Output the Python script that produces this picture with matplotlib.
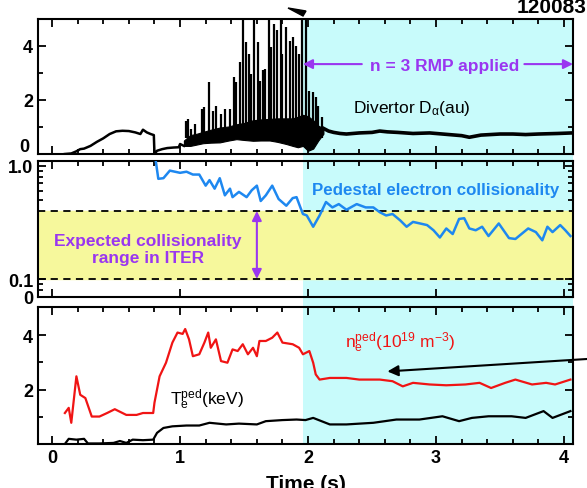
import numpy as np
import matplotlib
matplotlib.use("Agg")
import matplotlib.pyplot as plt
from matplotlib.patches import Rectangle, Polygon
from matplotlib.ticker import FixedLocator, MultipleLocator, NullFormatter
import matplotlib.transforms as mtransforms

plt.rcParams["font.family"] = ["Liberation Sans", "DejaVu Sans"]
plt.rcParams["mathtext.default"] = "regular"
plt.rcParams["xtick.direction"] = "in"
plt.rcParams["ytick.direction"] = "in"

# ---- data ----
# divertor D-alpha, before ELMs
t_da_pre = [0.10, 0.15, 0.19, 0.22, 0.25, 0.30, 0.35, 0.40, 0.45, 0.50, 0.55,
            0.60, 0.65, 0.69, 0.71, 0.74, 0.77, 0.795, 0.80, 0.82, 0.86, 0.90,
            0.95, 0.99, 1.00, 1.03]
da_pre = [0.0, 0.02, 0.1, 0.18, 0.2, 0.3, 0.45, 0.58, 0.74, 0.84, 0.86,
          0.85, 0.8, 0.74, 0.9, 0.8, 0.74, 0.7, 0.0, 0.12, 0.18, 0.22,
          0.24, 0.25, 0.37, 0.3]
# dense ELM band (lower / upper envelope)
t_band = [1.03, 1.08, 1.13, 1.18, 1.24, 1.31, 1.38, 1.44, 1.50, 1.57, 1.63,
          1.70, 1.76, 1.83, 1.88, 1.92, 1.96, 2.00, 2.04, 2.08, 2.12]
band_lo = [0.3, 0.3, 0.35, 0.4, 0.42, 0.43, 0.5, 0.55, 0.52, 0.49, 0.5,
           0.5, 0.45, 0.37, 0.3, 0.25, 0.3, 0.12, 0.2, 0.5, 0.75]
band_hi = [0.5, 0.7, 0.75, 0.82, 0.9, 0.98, 1.02, 1.1, 1.15, 1.25, 1.28,
           1.3, 1.32, 1.32, 1.32, 1.38, 1.45, 1.4, 1.25, 1.05, 0.95]
# ELM spikes
spike_t = [1.045, 1.062, 1.088, 1.114, 1.174, 1.19, 1.225, 1.257, 1.283, 1.32,
           1.35, 1.39, 1.418, 1.44, 1.465, 1.49, 1.512, 1.537, 1.555, 1.58,
           1.608, 1.626, 1.647, 1.667, 1.693, 1.711, 1.73, 1.756, 1.785, 1.80,
           1.83, 1.855, 1.886, 1.907, 1.93, 1.953, 1.984, 2.01, 2.036, 2.06,
           2.08, 2.11]
spike_v = [1.23, 1.3, 0.93, 1.11, 1.67, 1.73, 2.66, 1.6, 1.79, 1.48,
           1.67, 1.67, 2.84, 2.66, 3.4, 5.0, 4.15, 3.7, 2.97, 5.0,
           4.15, 2.72, 3.1, 3.15, 5.0, 3.95, 4.8, 4.6, 5.0, 3.7,
           4.7, 4.2, 4.35, 4.0, 3.7, 4.95, 5.0, 2.35, 2.3, 2.1,
           1.79, 1.36]
# after RMP
t_da_post = [2.12, 2.16, 2.2, 2.25, 2.3, 2.4, 2.5, 2.56, 2.62, 2.7, 2.82,
             2.95, 3.1, 3.2, 3.26, 3.35, 3.5, 3.6, 3.7, 3.8, 3.95, 4.06]
da_post = [0.95, 0.85, 0.8, 0.76, 0.74, 0.78, 0.8, 0.85, 0.82, 0.8, 0.76,
           0.78, 0.72, 0.68, 0.62, 0.7, 0.74, 0.74, 0.72, 0.74, 0.76, 0.78]

# pedestal electron collisionality
t_nu = [0.81, 0.83, 0.87, 0.92, 1.00, 1.05, 1.10, 1.15, 1.20, 1.23, 1.27,
        1.31, 1.35, 1.39, 1.41, 1.46, 1.52, 1.56, 1.60, 1.63, 1.67, 1.72,
        1.77, 1.83, 1.88, 1.91, 1.94, 1.96, 1.99, 2.04, 2.09, 2.14, 2.19,
        2.24, 2.30, 2.38, 2.45, 2.51, 2.56, 2.61, 2.66, 2.72, 2.77, 2.82,
        2.875, 2.93, 2.98, 3.03, 3.08, 3.13, 3.18, 3.22, 3.26, 3.31, 3.36,
        3.41, 3.49, 3.57, 3.62, 3.72, 3.78, 3.83, 3.87, 3.91, 3.97, 4.01,
        4.05]
nu = [1.11, 0.77, 0.78, 0.91, 0.87, 0.89, 0.84, 0.84, 0.67, 0.75, 0.63,
      0.78, 0.55, 0.63, 0.53, 0.59, 0.53, 0.61, 0.67, 0.49, 0.55, 0.67,
      0.51, 0.445, 0.52, 0.53, 0.43, 0.376, 0.365, 0.29, 0.365, 0.48, 0.43,
      0.46, 0.41, 0.46, 0.43, 0.43, 0.39, 0.365, 0.376, 0.33, 0.29, 0.32,
      0.31, 0.30, 0.27, 0.233, 0.28, 0.25, 0.34, 0.345, 0.28, 0.27, 0.29,
      0.24, 0.31, 0.23, 0.226, 0.28, 0.26, 0.22, 0.29, 0.26, 0.30, 0.27,
      0.24]

# pedestal density
t_ne = [0.10, 0.13, 0.15, 0.19, 0.22, 0.26, 0.31, 0.37, 0.43, 0.49, 0.58,
        0.66, 0.71, 0.79, 0.80, 0.84, 0.89, 0.94, 0.98, 1.02, 1.04, 1.07,
        1.10, 1.15, 1.19, 1.22, 1.24, 1.28, 1.32, 1.37, 1.41, 1.45, 1.49,
        1.53, 1.57, 1.60, 1.62, 1.67, 1.72, 1.76, 1.80, 1.88, 1.93, 1.96,
        2.01, 2.04, 2.06, 2.09, 2.17, 2.30, 2.40, 2.56, 2.66, 2.74, 2.82,
        2.95, 3.08, 3.23, 3.34, 3.43, 3.54, 3.62, 3.75, 3.86, 3.93, 4.05]
ne = [1.14, 1.33, 0.78, 2.49, 1.81, 1.69, 1.01, 1.01, 1.14, 1.28, 1.07,
      1.07, 1.14, 1.14, 1.52, 2.49, 2.99, 3.73, 4.1, 4.05, 4.23, 3.85,
      3.23, 3.3, 3.73, 4.1, 3.54, 3.85, 3.05, 2.99, 3.48, 3.42, 3.67,
      3.30, 3.54, 3.23, 3.79, 3.79, 3.91, 4.1, 3.73, 3.67, 3.54, 3.30,
      3.42, 2.99, 2.56, 2.37, 2.43, 2.43, 2.37, 2.37, 2.31, 2.12, 2.25,
      2.19, 2.16, 2.19, 2.25, 2.06, 2.25, 2.37, 2.19, 2.25, 2.19, 2.37]

# pedestal temperature
t_te = [0.10, 0.13, 0.19, 0.25, 0.28, 0.37, 0.48, 0.53, 0.58, 0.63, 0.71,
        0.79, 0.82, 0.87, 0.94, 1.05, 1.15, 1.23, 1.36, 1.46, 1.60, 1.67,
        1.80, 1.91, 1.98, 2.04, 2.17, 2.30, 2.51, 2.69, 2.87, 3.05, 3.18,
        3.28, 3.41, 3.59, 3.70, 3.84, 3.91, 4.05]
te = [0.0, 0.19, 0.16, 0.19, 0.02, 0.02, 0.04, 0.11, 0.04, 0.16, 0.14,
      0.16, 0.41, 0.59, 0.65, 0.68, 0.68, 0.78, 0.72, 0.75, 0.72, 0.84,
      0.88, 0.9, 0.88, 0.96, 0.72, 0.72, 0.78, 0.9, 0.9, 1.02, 0.84,
      0.96, 1.02, 1.02, 0.96, 1.21, 0.96, 1.21]

time_ticks = [0, 1, 2, 3, 4]

RMP_START = 1.96
XLIM = (-0.11, 4.07)
CYAN = "#c8fbfb"
YELLOW = "#f6f89c"
PURPLE = "#9a36f0"
BLUE = "#1e88f0"
RED = "#f01414"

fig = plt.figure(figsize=(5.87, 4.89), dpi=100)
W, H = 587.0, 489.0


def px(x, y):
    # picture pixels (from top-left) to figure fraction
    return (x / W, 1 - y / H)


def axes_px(left, top, right, bottom):
    return fig.add_axes([left / W, 1 - bottom / H, (right - left) / W, (bottom - top) / H])


ax1 = axes_px(38, 20, 573, 155)
ax2 = axes_px(38, 162, 573, 298)
ax3 = axes_px(38, 308, 573, 445)

for ax in (ax1, ax2, ax3):
    ax.set_facecolor("none")
    ax.set_xlim(*XLIM)
    ax.set_xticks(time_ticks)
    ax.xaxis.set_minor_locator(MultipleLocator(0.2))
    ax.tick_params(which="both", top=True, right=True, width=1.3)
    ax.tick_params(which="major", length=6, labelsize=13)
    ax.tick_params(which="minor", length=3.5)
    for s in ax.spines.values():
        s.set_linewidth(1.5)
ax1.set_xticklabels([])
ax2.set_xticklabels([])

# cyan region for RMP, across all three panels
trans = mtransforms.blended_transform_factory(ax3.transData, fig.transFigure)
fig.add_artist(Rectangle((RMP_START, 1 - 445 / H), XLIM[1] - RMP_START, (445 - 20) / H,
                         transform=trans, facecolor=CYAN, edgecolor="none", zorder=-1))

# ---- top panel: D-alpha ----
ax1.plot(t_da_pre, da_pre, color="k", lw=1.8)
ax1.fill_between(t_band, band_lo, band_hi, color="k", lw=0.8)
ax1.vlines(spike_t, 0.6, spike_v, color="k", lw=1.6)
ax1.plot(t_da_post, da_post, color="k", lw=2.6)
ax1.set_ylim(0, 5)
ax1.set_yticks([0, 2, 4])
ax1.set_yticklabels(["", "2", "4"], fontweight="bold")
ax1.yaxis.set_minor_locator(MultipleLocator(1))
# the zero label sits a little above its tick in the original
fig.text(*px(29, 147), "0", fontsize=13, fontweight="bold", ha="right", va="center")
fig.text(*px(353, 108), r"Divertor D$_\alpha$(au)", fontsize=12.5, va="center")
fig.text(*px(445, 66), "n = 3 RMP applied", color=PURPLE, fontsize=12.5,
         fontweight="bold", ha="center", va="center")
ax1.annotate("", xy=(RMP_START, 3.33), xytext=(2.42, 3.33),
             arrowprops=dict(arrowstyle="-|>", color=PURPLE, lw=1.5, mutation_scale=14,
                             shrinkA=0, shrinkB=0))
ax1.annotate("", xy=(4.07, 3.33), xytext=(3.69, 3.33),
             arrowprops=dict(arrowstyle="-|>", color=PURPLE, lw=1.5, mutation_scale=14,
                             shrinkA=0, shrinkB=0),
             annotation_clip=False)

# ---- middle panel: collisionality ----
ax2.set_yscale("log")
ax2.set_ylim(0.0693, 1.107)
ax2.axhspan(0.1, 0.4, color=YELLOW, zorder=1)
ax2.axhline(0.1, color="k", lw=1.3, ls=(0, (4, 3)), zorder=2)
ax2.axhline(0.4, color="k", lw=1.3, ls=(0, (4, 3)), zorder=2)
ax2.plot(t_nu, nu, color=BLUE, lw=1.8, zorder=3)
ax2.yaxis.set_major_locator(FixedLocator([0.0693, 0.1, 1.0]))
ax2.set_yticklabels(["0", "0.1", "1.0"], fontweight="bold")
ax2.yaxis.set_minor_locator(FixedLocator([0.08, 0.09, 0.5, 0.6, 0.7, 0.8, 0.9]))
ax2.yaxis.set_minor_formatter(NullFormatter())
ax2.tick_params(which="minor", axis="x", bottom=False)
fig.text(*px(436, 190), "Pedestal electron collisionality", color=BLUE, fontsize=12.2,
         fontweight="bold", ha="center", va="center")
fig.text(*px(148, 250), "Expected collisionality\nrange in ITER", color=PURPLE,
         fontsize=12.5, fontweight="bold", ha="center", va="center", linespacing=1.1)
ax2.annotate("", xy=(1.60, 0.1), xytext=(1.60, 0.4),
             arrowprops=dict(arrowstyle="<|-|>", color=PURPLE, lw=1.5, mutation_scale=14,
                             shrinkA=0, shrinkB=0))

# ---- bottom panel: pedestal density and temperature ----
ax3.plot(t_ne, ne, color=RED, lw=1.6)
ax3.plot(t_te, te, color="k", lw=1.6)
ax3.set_ylim(0, 5.04)
ax3.set_yticks([2, 4])
ax3.set_yticklabels(["2", "4"], fontweight="bold")
ax3.yaxis.set_minor_locator(FixedLocator([1, 3]))
ax3.set_xticklabels([str(t) for t in time_ticks], fontweight="bold")
fig.text(*px(345, 343), r"n$_e^{ped}$(10$^{19}$ m$^{-3}$)", color=RED, fontsize=12.5,
         va="center")
fig.text(*px(170, 400), r"T$_e^{ped}$(keV)", color="k", fontsize=12.5, va="center")
ax3.annotate("", xy=(2.62, 2.67), xytext=px(587, 360),
             textcoords="figure fraction",
             arrowprops=dict(arrowstyle="-|>", color="k", lw=1.5, mutation_scale=16,
                             shrinkA=0, shrinkB=0),
             annotation_clip=False)
ax3.set_xlabel("Time (s)", fontsize=15, fontweight="bold", labelpad=6)

# cut-off shot number and arrow fragment at the top edge
fig.text(*px(552, 13), "120083", fontsize=15, fontweight="bold", ha="center",
         va="baseline")
fig.add_artist(Polygon([px(288, 9), px(306, 12), px(303, 17)],
                       closed=True, transform=fig.transFigure, color="k"))

fig.savefig("out.png", dpi=100)
